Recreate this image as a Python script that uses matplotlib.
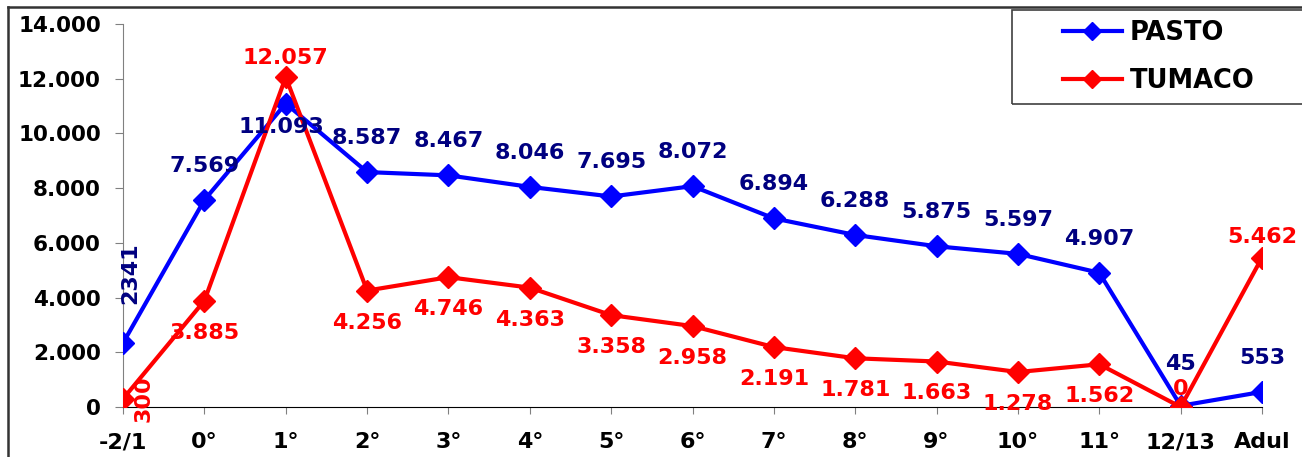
#!/usr/bin/env python
# plot.py - PASTO vs TUMACO enrolment by grade, line chart with value labels
import matplotlib
matplotlib.use("Agg")
import matplotlib.pyplot as plt
from matplotlib.lines import Line2D
from matplotlib.patches import Rectangle

plt.rcParams["font.family"] = ["DejaVu Sans"]
plt.rcParams["font.weight"] = "bold"

grades = ["-2/1", "0°", "1°", "2°", "3°", "4°", "5°", "6°", "7°", "8°",
          "9°", "10°", "11°", "12/13", "Adul"]
pasto = [2341, 7569, 11093, 8587, 8467, 8046, 7695, 8072, 6894, 6288,
         5875, 5597, 4907, 45, 553]
tumaco = [300, 3885, 12057, 4256, 4746, 4363, 3358, 2958, 2191, 1781,
          1663, 1278, 1562, 0, 5462]

BLUE, NAVY, RED = "#0000ff", "#000080", "#ff0000"


def fmt(v):
    return "{:,}".format(v).replace(",", ".")


def main():
    fig = plt.figure(figsize=(13.02, 4.57), dpi=100)
    ax = fig.add_axes([0.0945, 0.1094, 0.8748, 0.8381])
    x = list(range(len(grades)))

    ax.plot(x, pasto, color=BLUE, lw=3, marker="D", ms=11, zorder=3)
    ax.plot(x, tumaco, color=RED, lw=3, marker="D", ms=11, zorder=4)

    # value labels: PASTO above, TUMACO below (a few exceptions)
    p_off = {0: (5.5, 50), 2: (-3, -17), 13: (0, 30)}
    p_rot = {0: 90}
    for i, v in enumerate(pasto):
        dx, dy = p_off.get(i, (0, 24.5))
        s = str(v) if i == 0 else fmt(v)  # first label shows without separator
        ax.annotate(s, (i, v), xytext=(dx, dy), textcoords="offset points",
                    ha="center", va="center", color=NAVY, fontsize=16,
                    fontweight="bold", rotation=p_rot.get(i, 0), zorder=5)
    t_off = {0: (14.5, 0), 2: (0, 14), 13: (0, 13), 14: (0, 15)}
    t_rot = {0: 90}
    for i, v in enumerate(tumaco):
        dx, dy = t_off.get(i, (0, -23))
        ax.annotate(fmt(v), (i, v), xytext=(dx, dy), textcoords="offset points",
                    ha="center", va="center", color=RED, fontsize=16,
                    fontweight="bold", rotation=t_rot.get(i, 0), zorder=5)

    ax.set_xlim(0, len(grades) - 1)
    ax.set_ylim(0, 14000)
    ax.set_xticks(x)
    ax.set_xticklabels(grades, fontsize=16, fontweight="bold")
    ax.set_yticks(range(0, 14001, 2000))
    ax.set_yticklabels([fmt(v) for v in range(0, 14001, 2000)],
                       fontsize=15.5, fontweight="bold")
    ax.tick_params(axis="y", length=6, pad=10, color="#808080")
    ax.tick_params(axis="x", length=5, pad=13, color="#808080")
    for s in ("top", "right"):
        ax.spines[s].set_visible(False)
    ax.spines["left"].set_color("#808080")
    ax.spines["bottom"].set_color("black")

    # legend in a hand-drawn box (box runs off the right edge)
    fig.add_artist(Rectangle((1012 / 1302, 1 - 104 / 457), 0.3, 94 / 457,
                             transform=fig.transFigure, fill=False,
                             ec="#404040", lw=1.2))
    handles = [Line2D([], [], color=BLUE, lw=3, marker="D", ms=9),
               Line2D([], [], color=RED, lw=3, marker="D", ms=9)]
    fig.legend(handles, ["PASTO", "TUMACO"], loc="center left",
               bbox_to_anchor=(1050 / 1302, 1 - 57 / 457), frameon=False,
               prop={"size": 18.5, "weight": "bold"}, handlelength=2.3,
               handletextpad=0.3, labelspacing=0.85, borderpad=0)

    # outer chart border (only top and left visible in the crop)
    fig.add_artist(Line2D([8 / 1302, 1], [1 - 7 / 457] * 2,
                          transform=fig.transFigure, color="#333333", lw=1.8))
    fig.add_artist(Line2D([8 / 1302] * 2, [0, 1 - 7 / 457],
                          transform=fig.transFigure, color="#333333", lw=1.8))

    fig.savefig("out.png", dpi=100)


if __name__ == "__main__":
    main()
